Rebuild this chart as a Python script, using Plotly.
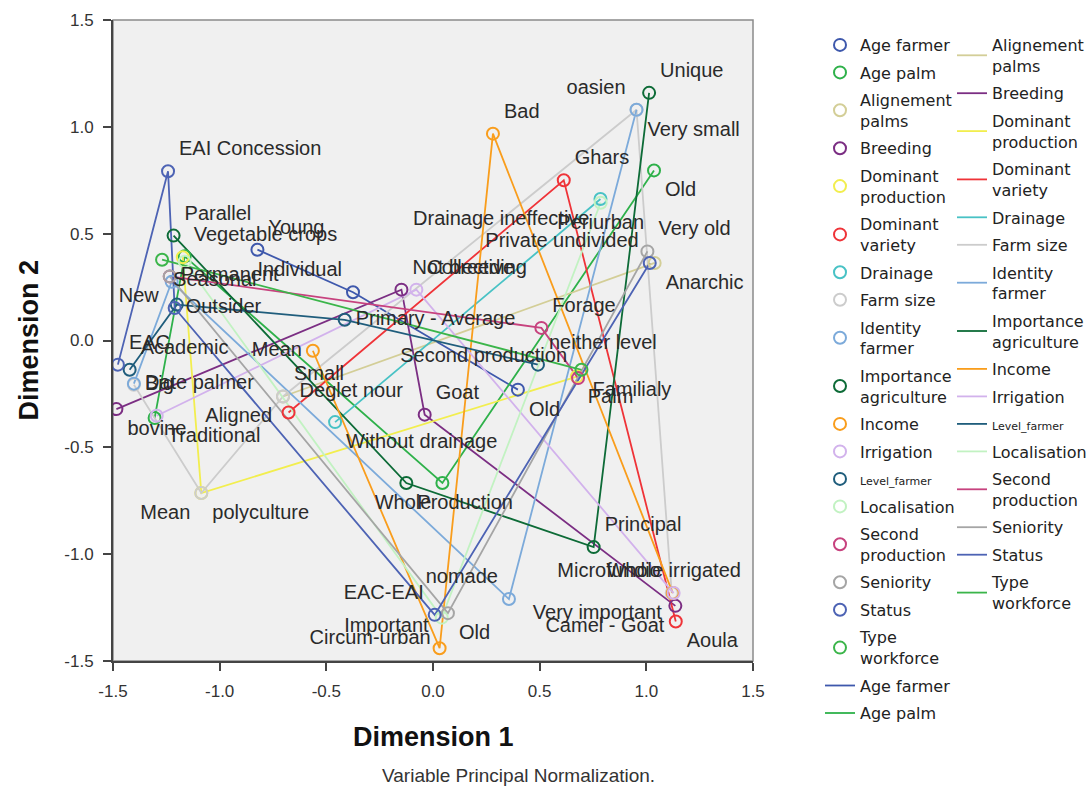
import plotly.graph_objects as go

# ---------------- data: category points (Dimension 1, Dimension 2) ----------------
age_farmer_cat = ["Young", "Individual", "Old"]
age_farmer_d1 = [-0.823, -0.375, 0.398]
age_farmer_d2 = [0.425, 0.226, -0.230]

age_palm_cat = ["", "", "Whole", "Old"]
age_palm_d1 = [-1.305, -1.164, 0.044, 1.036]
age_palm_d2 = [-0.363, 0.394, -0.667, 0.796]

alignement_cat = ["Aligned", "Anarchic"]
alignement_d1 = [-0.703, 1.039]
alignement_d2 = [-0.262, 0.363]

breeding_cat = ["bovine", "Not breeding", "Goat", "Camel - Goat"]
breeding_d1 = [-1.484, -0.148, -0.039, 1.136]
breeding_d2 = [-0.321, 0.238, -0.347, -1.242]

dom_prod_cat = ["Vegetable crops", "polyculture", "Palm"]
dom_prod_d1 = [-1.173, -1.086, 0.674]
dom_prod_d2 = [0.390, -0.714, -0.169]

dom_var_cat = ["Deglet nour", "Ghars", "Aoula"]
dom_var_d1 = [-0.677, 0.613, 1.138]
dom_var_d2 = [-0.337, 0.750, -1.315]

drainage_cat = ["Without drainage", "Drainage ineffective"]
drainage_d1 = [-0.459, 0.785]
drainage_d2 = [-0.382, 0.662]

farm_size_cat = ["Big", "Mean", "Small", "Very small", "Microfundio"]
farm_size_d1 = [-1.402, -1.086, -0.703, 0.954, 1.119]
farm_size_d2 = [-0.207, -0.714, -0.262, 1.080, -1.182]

identity_cat = ["Date palmer", "", "nomade", "oasien"]
identity_d1 = [-1.402, -1.225, 0.356, 0.954]
identity_d2 = [-0.202, 0.275, -1.210, 1.080]

importance_cat = ["Parallel", "Production", "Principal", "Unique"]
importance_d1 = [-1.216, -0.125, 0.753, 1.013]
importance_d2 = [0.491, -0.667, -0.967, 1.159]

income_cat = ["Mean", "Important", "Bad", "Very important"]
income_d1 = [-0.563, 0.031, 0.281, 1.124]
income_d2 = [-0.048, -1.440, 0.968, -1.182]

irrigation_cat = ["Traditional", "Collective", "Whole irrigated"]
irrigation_d1 = [-1.295, -0.078, 1.128]
irrigation_d2 = [-0.352, 0.238, -1.182]

level_cat = ["Academic", "", "Primary - Average", "neither level"]
level_d1 = [-1.422, -1.201, -0.414, 0.492]
level_d2 = [-0.137, 0.168, 0.097, -0.113]

localisation_cat = ["", "Circum-urban", "Periurban"]
localisation_d1 = [-1.164, 0.041, 0.786]
localisation_d2 = [0.369, -1.297, 0.645]

second_prod_cat = ["Permanent", "Forage", "Second production"]
second_prod_d1 = [-1.234, 0.508, 0.680]
second_prod_d2 = [0.300, 0.059, -0.176]

seniority_cat = ["New", "Old", "Very old"]
seniority_d1 = [-1.234, 0.070, 1.005]
seniority_d2 = [0.300, -1.276, 0.417]

status_cat = ["EAC", "EAI Concession", "Outsider", "EAC-EAI", "Private undivided"]
status_d1 = [-1.477, -1.242, -1.211, 0.008, 1.016]
status_d2 = [-0.113, 0.792, 0.152, -1.284, 0.363]

workforce_cat = ["Seasonal", "Familialy"]
workforce_d1 = [-1.270, 0.696]
workforce_d2 = [0.378, -0.137]

tick_values = [-1.5, -1.0, -0.5, 0.0, 0.5, 1.0, 1.5]
tick_labels = ["-1.5", "-1.0", "-0.5", "0.0", "0.5", "1.0", "1.5"]

variables = [
    ("Age farmer", age_farmer_cat, age_farmer_d1, age_farmer_d2),
    ("Age palm", age_palm_cat, age_palm_d1, age_palm_d2),
    ("Alignement palms", alignement_cat, alignement_d1, alignement_d2),
    ("Breeding", breeding_cat, breeding_d1, breeding_d2),
    ("Dominant production", dom_prod_cat, dom_prod_d1, dom_prod_d2),
    ("Dominant variety", dom_var_cat, dom_var_d1, dom_var_d2),
    ("Drainage", drainage_cat, drainage_d1, drainage_d2),
    ("Farm size", farm_size_cat, farm_size_d1, farm_size_d2),
    ("Identity farmer", identity_cat, identity_d1, identity_d2),
    ("Importance agriculture", importance_cat, importance_d1, importance_d2),
    ("Income", income_cat, income_d1, income_d2),
    ("Irrigation", irrigation_cat, irrigation_d1, irrigation_d2),
    ("Level_farmer", level_cat, level_d1, level_d2),
    ("Localisation", localisation_cat, localisation_d1, localisation_d2),
    ("Second production", second_prod_cat, second_prod_d1, second_prod_d2),
    ("Seniority", seniority_cat, seniority_d1, seniority_d2),
    ("Status", status_cat, status_d1, status_d2),
    ("Type workforce", workforce_cat, workforce_d1, workforce_d2),
]

# ---------------- styles ----------------
colors = {
    "Age farmer": "#3E58AC",
    "Age palm": "#2EB14A",
    "Alignement palms": "#D3CE97",
    "Breeding": "#7B2E83",
    "Dominant production": "#F2EE4E",
    "Dominant variety": "#EF3338",
    "Drainage": "#48C2C5",
    "Farm size": "#CCCCCC",
    "Identity farmer": "#7CAADA",
    "Importance agriculture": "#0D6B37",
    "Income": "#F99D1C",
    "Irrigation": "#D2B2EC",
    "Level_farmer": "#1F5D7C",
    "Localisation": "#C2F2C2",
    "Second production": "#C7427E",
    "Seniority": "#A5A5A5",
    "Status": "#4D63B4",
    "Type workforce": "#3BB54A",
}

legend_names = {
    "Alignement palms": "Alignement<br>palms",
    "Dominant production": "Dominant<br>production",
    "Dominant variety": "Dominant<br>variety",
    "Identity farmer": "Identity<br>farmer",
    "Importance agriculture": "Importance<br>agriculture",
    "Level_farmer": '<span style="font-size:11px">Level_farmer</span>',
    "Second production": "Second<br>production",
    "Type workforce": "Type<br>workforce",
}

label_pos = {
    "Age farmer": ["top right", "top left", "bottom right"],
    "Age palm": ["top right", "top right", "bottom left", "bottom right"],
    "Alignement palms": ["bottom left", "bottom right"],
    "Breeding": ["bottom right", "top right", "top right", "bottom left"],
    "Dominant production": ["top right", "bottom right", "bottom right"],
    "Dominant variety": ["top right", "top right", "bottom right"],
    "Drainage": ["bottom right", "bottom left"],
    "Farm size": ["middle right", "bottom left", "top right", "bottom right", "top left"],
    "Identity farmer": ["middle right", "top right", "top left", "top left"],
    "Importance agriculture": ["top right", "bottom right", "top right", "top right"],
    "Income": ["middle left", "top left", "top right", "bottom left"],
    "Irrigation": ["bottom right", "top right", "top center"],
    "Level_farmer": ["top right", "top right", "middle right", "top right"],
    "Localisation": ["top right", "bottom left", "bottom center"],
    "Second production": ["middle right", "top right", "top left"],
    "Seniority": ["bottom left", "bottom right", "top right"],
    "Status": ["top right", "top right", "middle right", "top left", "top left"],
    "Type workforce": ["bottom right", "bottom right"],
}

first_col_lines = ("Age farmer", "Age palm")

fig = go.Figure()

# connecting lines
for i, (name, cats, d1, d2) in enumerate(variables):
    col = colors[name]
    if name in first_col_lines:
        leg, rank = "legend", 100 + first_col_lines.index(name)
    else:
        leg, rank = "legend2", 200 + i
    fig.add_trace(go.Scatter(
        x=d1, y=d2, mode="lines",
        line=dict(color=col, width=1.8),
        name=legend_names.get(name, name),
        legend=leg, legendgroup="l_" + name, legendrank=rank,
        hoverinfo="skip",
    ))

# category points
for i, (name, cats, d1, d2) in enumerate(variables):
    col = colors[name]
    fig.add_trace(go.Scatter(
        x=d1, y=d2, mode="markers",
        marker=dict(symbol="circle-open", size=12, color=col, line=dict(width=2, color=col)),
        name=legend_names.get(name, name),
        legend="legend", legendgroup="p_" + name, legendrank=10 + i,
        text=cats, hoverinfo="text",
    ))

# category labels (invisible markers give the text its offset from the points)
lx, ly, lt, lp = [], [], [], []
for name, cats, d1, d2 in variables:
    lx += d1
    ly += d2
    lt += cats
    lp += label_pos[name]
fig.add_trace(go.Scatter(
    x=lx, y=ly, mode="markers+text", text=lt, textposition=lp,
    marker=dict(size=16, color="rgba(0,0,0,0)"),
    textfont=dict(family="Liberation Sans, Arial, sans-serif", size=20, color="#2a2a2a"),
    showlegend=False, hoverinfo="skip", cliponaxis=False,
))

W, H = 1092, 786
L, R, T, B = 113, 339, 20, 125
pw, ph = W - L - R, H - T - B

axis_common = dict(
    range=[-1.5, 1.5], tickvals=tick_values, ticktext=tick_labels,
    showgrid=False, zeroline=False,
    showline=True, linecolor="#444444", linewidth=2,
    ticks="outside", ticklen=8, tickwidth=1.5, tickcolor="#444444",
    tickfont=dict(family="Liberation Sans, Arial, sans-serif", size=17, color="#333333"),
    ticklabelstandoff=6,
)

legend_common = dict(
    xref="container", yref="container",
    y=1 - 28 / H, xanchor="left", yanchor="top",
    traceorder="grouped", tracegroupgap=3.7,
    font=dict(family="DejaVu Sans, Verdana, sans-serif", size=16, color="#222222"),
    bgcolor="rgba(0,0,0,0)", borderwidth=0, maxheight=780,
)

fig.update_layout(
    width=W, height=H,
    margin=dict(l=L, r=R, t=T, b=B),
    paper_bgcolor="white",
    plot_bgcolor="#F0F0F0",
    xaxis=axis_common,
    yaxis=axis_common,
    showlegend=True,
    legend=dict(legend_common, x=820 / W),
    legend2=dict(legend_common, x=952 / W),
    shapes=[dict(type="rect", xref="paper", yref="paper", x0=0, y0=0, x1=1, y1=1,
                 line=dict(color="#8a8a8a", width=1.5), layer="below")],
    annotations=[
        dict(text="<b>Dimension 1</b>", xref="paper", yref="paper",
             x=0.5, y=(661 - 737) / ph, xanchor="center", yanchor="middle",
             showarrow=False, font=dict(family="Liberation Sans, Arial, sans-serif", size=27, color="#111111")),
        dict(text="<b>Dimension 2</b>", xref="paper", yref="paper",
             x=(28 - L) / pw, y=0.5, xanchor="center", yanchor="middle", textangle=-90,
             showarrow=False, font=dict(family="Liberation Sans, Arial, sans-serif", size=27, color="#111111")),
        dict(text="Variable Principal Normalization.", xref="paper", yref="paper",
             x=(518 - L) / pw, y=(661 - 775) / ph, xanchor="center", yanchor="middle",
             showarrow=False, font=dict(family="Liberation Sans, Arial, sans-serif", size=19, color="#333333")),
    ],
)

fig.write_html("out.html", config={"displayModeBar": False},
               post_script="document.body.style.margin='0';")
